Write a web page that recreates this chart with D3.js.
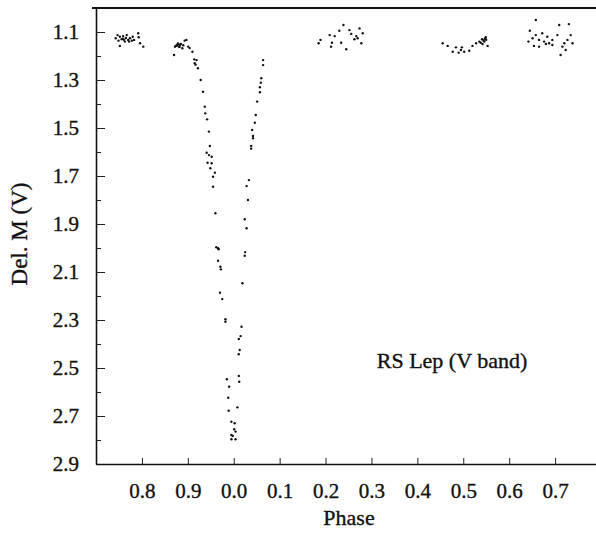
<!DOCTYPE html>
<html>
<head>
<meta charset="utf-8">
<script src="https://cdn.jsdelivr.net/npm/d3@7"></script>
<style>
  html, body { margin: 0; padding: 0; background: #fff; }
  svg { display: block; }
  svg text { font-family: "Liberation Serif", "Times New Roman", Times, "DejaVu Serif", serif !important; fill: #111; }
</style>
</head>
<body>
<svg id="chart" width="596" height="533"></svg>
<script>
// Observed phase (0..1) and differential V magnitude
const phase = [
  // max before eclipse (phase ~0.74-0.80)
  0.743,0.749,0.752,0.756,0.759,0.763,0.767,0.770,0.774,0.778,0.783,0.792,0.793,0.796,0.803,0.752,0.747,0.758,0.765,0.772,0.761,0.780,
  // ~0.87-0.91 and descending branch
  0.870,0.872,0.878,0.883,0.888,0.893,0.897,0.901,0.904,0.910,0.876,0.880,0.885,0.879,0.882,0.874,0.890,
  0.914,0.915,0.919,0.917,0.922,0.928,0.933,0.937,0.938,0.942,0.946,0.948,0.941,0.946,0.952,0.943,0.952,0.949,0.959,0.955,0.955,0.960,
  0.966,0.962,0.967,0.966,0.971,0.972,0.970,0.975,0.982,0.982,0.985,0.990,0.988,0.989,0.995,0.002,0.001,0.004,0.995,0.998,0.004,0.995,
  // ascending branch
  0.008,0.011,0.012,0.011,0.013,0.015,0.011,0.017,0.019,0.024,0.025,0.028,0.024,0.031,0.028,0.033,0.038,0.038,0.042,0.042,
  0.040,0.046,0.048,0.051,0.057,0.057,0.059,0.060,0.064,0.064,
  // ~0.19-0.28
  0.185,0.189,0.209,0.214,0.212,0.220,0.230,0.234,0.239,0.245,0.252,0.256,0.263,0.270,0.274,0.278,0.281,0.267,
  // ~0.45-0.55
  0.455,0.466,0.477,0.484,0.490,0.495,0.502,0.513,0.520,0.528,0.535,0.541,0.546,0.549,0.553,0.542,0.497,0.544,0.547,0.538,0.550,
  // ~0.64-0.74
  0.658,0.645,0.642,0.651,0.658,0.665,0.672,0.676,0.683,0.687,0.694,0.705,0.709,0.716,0.720,0.723,0.727,0.730,0.734,0.738,
  0.694,0.680,0.665,0.654,0.712
];
const mag = [
  1.126,1.136,1.120,1.130,1.117,1.140,1.113,1.133,1.126,1.136,1.133,1.105,1.122,1.147,1.161,1.158,1.113,1.128,1.125,1.140,1.132,1.120,
  1.196,1.161,1.150,1.154,1.168,1.136,1.133,1.161,1.167,1.182,1.155,1.160,1.150,1.148,1.162,1.158,1.155,
  1.214,1.230,1.217,1.236,1.251,1.300,1.349,1.411,1.439,1.464,1.515,1.575,1.603,1.613,1.620,1.645,1.647,1.668,1.686,1.703,1.745,1.855,
  2.001,1.997,2.005,2.053,2.078,2.089,2.186,2.213,2.297,2.307,2.547,2.578,2.624,2.678,2.724,2.730,2.755,2.765,2.779,2.783,2.797,2.797,
  2.664,2.533,2.557,2.443,2.425,2.367,2.379,2.328,2.147,2.032,2.017,1.918,1.880,1.800,1.742,1.717,1.586,1.575,1.543,1.533,
  1.508,1.478,1.446,1.390,1.351,1.330,1.311,1.293,1.238,1.217,
  1.147,1.133,1.113,1.145,1.161,1.117,1.095,1.145,1.071,1.172,1.092,1.108,1.130,1.126,1.085,1.147,1.105,1.117,
  1.147,1.158,1.182,1.164,1.186,1.175,1.182,1.178,1.158,1.147,1.140,1.130,1.140,1.122,1.158,1.150,1.164,1.135,1.128,1.145,1.132,
  1.050,1.095,1.140,1.126,1.113,1.133,1.105,1.140,1.120,1.147,1.133,1.113,1.071,1.161,1.147,1.175,1.133,1.067,1.113,1.147,
  1.154,1.150,1.161,1.158,1.196
];
const wrapAt = 0.74;           // phases below this are plotted one cycle later
const xTicks = [0.8, 0.9, 1.0, 1.1, 1.2, 1.3, 1.4, 1.5, 1.6, 1.7];
const yTicks = [1.1, 1.3, 1.5, 1.7, 1.9, 2.1, 2.3, 2.5, 2.7, 2.9];
const yMinor = [1.2, 1.4, 1.6, 1.8, 2.0, 2.2, 2.4, 2.6, 2.8];
const xTitle = "Phase";
const yTitle = "Del. M (V)";
const note = "RS Lep (V band)";

const FONT = '"Liberation Serif", "Times New Roman", Times, "DejaVu Serif", serif';
const svg = d3.select("#chart");
const x = d3.scaleLinear().domain([0.7, 1.8]).range([96, 601]);
const y = d3.scaleLinear().domain([1.0, 2.9]).range([8, 464]);

const pts = phase.map((p, i) => ({ x: p >= wrapAt ? p : p + 1, y: mag[i] }));

// top border
svg.append("line")
  .attr("x1", 92).attr("x2", 596)
  .attr("y1", y(1.0)).attr("y2", y(1.0))
  .attr("stroke", "#111").attr("stroke-width", 2);

// y axis (ticks inward)
svg.append("g").attr("transform", `translate(${x(0.7)},0)`)
  .call(d3.axisLeft(y).tickValues(yTicks).tickSizeInner(-9).tickSizeOuter(0).tickPadding(17)
    .tickFormat(d3.format(".1f")));
svg.append("g").attr("transform", `translate(${x(0.7)},0)`)
  .call(d3.axisLeft(y).tickValues(yMinor).tickSizeInner(-5).tickSizeOuter(0).tickFormat(""))
  .select(".domain").remove();

// x axis (ticks inward)
svg.append("g").attr("transform", `translate(0,${y(2.9)})`)
  .call(d3.axisBottom(x).tickValues(xTicks).tickSizeInner(-6).tickSizeOuter(0).tickPadding(19)
    .tickFormat(d => ((d + 1e-9) % 1).toFixed(1)));

svg.selectAll("g").attr("font-family", FONT);
svg.selectAll(".domain").attr("stroke", "#111").attr("stroke-width", 1.6);
svg.selectAll(".tick line").attr("stroke", "#222").attr("stroke-width", 1);
svg.selectAll(".tick text").attr("font-size", 21).attr("font-family", FONT)
  .attr("fill", "#111").attr("stroke", "#111").attr("stroke-width", 0.35);

// data points
svg.append("g").selectAll("circle").data(pts).join("circle")
  .attr("cx", d => x(d.x)).attr("cy", d => y(d.y))
  .attr("r", 1.2).attr("fill", "#111");

// titles
const title = (sel) => sel.attr("font-family", FONT).attr("fill", "#111")
  .attr("stroke", "#111").attr("stroke-width", 0.35);
svg.append("text").attr("x", 349).attr("y", 525).attr("text-anchor", "middle")
  .attr("font-size", 22).call(title).text(xTitle);
svg.append("text").attr("transform", "translate(27,234) rotate(-90)").attr("text-anchor", "middle")
  .attr("font-size", 23).call(title).text(yTitle);
svg.append("text").attr("x", 452).attr("y", 368).attr("text-anchor", "middle")
  .attr("font-size", 22).call(title).text(note);
</script>
</body>
</html>
